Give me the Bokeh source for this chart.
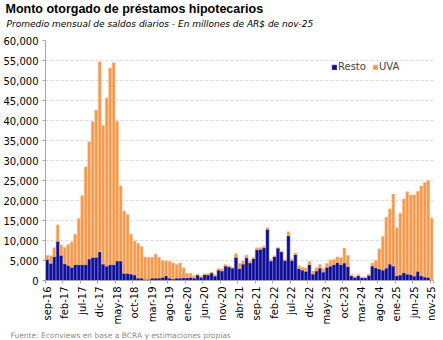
import math
from bokeh.plotting import figure
from bokeh.models import (Range1d, FixedTicker, NumeralTickFormatter, Title,
                          Legend, LegendItem, ColumnDataSource)
from bokeh.embed import file_html
from bokeh.resources import INLINE

# ---------------- data (millones de AR$ de nov-25) ----------------
month_abbr = ["ene", "feb", "mar", "abr", "may", "jun",
              "jul", "ago", "sep", "oct", "nov", "dic"]
months = []
y, m = 2016, 8
while (y, m) <= (2025, 10):
    months.append(f"{month_abbr[m]}-{str(y)[2:]}")
    m += 1
    if m == 12:
        m, y = 0, y + 1

resto = [5300, 4300, 6000, 9800, 6300, 4200, 3800, 3300, 4000, 4000,
         4000, 4000, 5400, 5800, 5800, 7200, 4100, 3600, 4000, 4000,
         4900, 4900, 1800, 1800, 1600, 1400, 600, 600, 300, 300,
         600, 600, 600, 800, 1200, 600, 400, 600, 600, 700,
         700, 800, 600, 1400, 800, 1500, 1400, 1900, 1100, 2600,
         2400, 3600, 3400, 3100, 5800, 3000, 4100, 5700, 4400, 5500,
         7700, 7800, 8200, 12800, 4900, 6000, 8100, 7200, 5000, 11200,
         5000, 6500, 3000, 2600, 2300, 4000, 1600, 2400, 3100, 2100,
         3300, 3600, 4000, 4500, 4000, 4400, 3500, 1200, 800, 1200,
         700, 700, 1300, 3600, 3200, 2900, 2600, 3100, 4100, 3600,
         1200, 1400, 2000, 1600, 1500, 1100, 2300, 1200, 900, 800,
         200]

uva = [1000, 1900, 2200, 4100, 2600, 4100, 5200, 6300, 7600, 11500,
       17200, 24400, 29300, 33900, 36800, 47500, 34700, 42000, 49100, 50500,
       34900, 18800, 15600, 14700, 10000, 8500, 8700, 7900, 5600, 5500,
       5200, 6000, 5200, 4200, 3700, 4200, 4000, 3400, 3800, 2500,
       1100, 1000, 600, 100, 300, 200, 300, 200, 400, 400,
       500, 400, 300, 100, 900, 1300, 800, 700, 500, 300,
       500, 400, 400, 400, 400, 200, 100, 200, 300, 1000,
       400, 400, 700, 700, 900, 800, 800, 800, 900, 900,
       1000, 1500, 1300, 1400, 1700, 3700, 2800, 300, 200, 300,
       100, 100, 300, 800, 1800, 5000, 8400, 12700, 13800, 18000,
       12000, 15400, 18400, 20600, 19900, 20300, 20000, 22400, 23600, 24200,
       15400]

tick_labels = ["sep-16", "feb-17", "jul-17", "dic-17", "may-18", "oct-18",
               "mar-19", "ago-19", "ene-20", "jun-20", "nov-20", "abr-21",
               "sep-21", "feb-22", "jul-22", "dic-22", "may-23", "oct-23",
               "mar-24", "ago-24", "ene-25", "jun-25", "nov-25"]

y_ticks = list(range(0, 60001, 5000))

title_text = "Monto otorgado de préstamos hipotecarios"
subtitle_text = "Promedio mensual de saldos diarios - En millones de AR$ de nov-25"
source_text = "Fuente: Econviews en base a BCRA y estimaciones propias"

# ---------------- figure ----------------
FONT = "DejaVu Sans"
n = len(resto)
idx = list(range(n))
src = ColumnDataSource(dict(x=idx, resto=resto, uva=uva,
                            total=[a + b for a, b in zip(resto, uva)],
                            month=months))

p = figure(width=443, height=340, output_backend="svg", toolbar_location=None,
           x_range=Range1d(-0.5, n - 0.5), y_range=Range1d(0, 60000),
           min_border_left=43, min_border_right=10,
           min_border_top=40, min_border_bottom=57)
p.outline_line_color = None
p.background_fill_color = "white"
p.border_fill_color = "white"

# main title (outermost)
p.title.text = title_text
p.title.align = "left"
p.title.offset = -40
p.title.standoff = -15.5
p.title.text_font = "Liberation Sans"
p.title.text_font_size = "12.5px"
p.title.text_font_style = "bold"
p.title.text_color = "#000000"

# subtitle (closest to the frame)
p.add_layout(Title(text=subtitle_text, align="left", offset=-39, standoff=20.3,
                   vertical_align="top",
                   text_font=FONT, text_font_size="9px",
                   text_font_style="italic", text_color="#000000"), "above")

r_resto = p.vbar(x="x", top="resto", bottom=0, width=0.82, source=src,
                 fill_color="#0C0C96", line_color="#3C3CB0", line_width=0.6)
r_uva = p.vbar(x="x", top="total", bottom="resto", width=0.82, source=src,
               fill_color="#F79646", line_color="#FBC193", line_width=0.6)

# grid
p.xgrid.visible = False
p.ygrid.grid_line_color = "#D9D9D9"
p.ygrid.grid_line_dash = "3 2"
p.ygrid.grid_line_width = 1

# y axis
ya = p.yaxis[0]
ya.ticker = FixedTicker(ticks=y_ticks)
ya.formatter = NumeralTickFormatter(format="0,0")
ya.axis_line_color = "#A6A6A6"
ya.major_tick_line_color = "#A6A6A6"
ya.major_tick_out = 3
ya.major_tick_in = 0
ya.minor_tick_line_color = None
ya.major_label_standoff = 4
ya.major_label_text_font = FONT
ya.major_label_text_font_size = "10px"
ya.major_label_text_color = "#000000"

# x axis
label_pos = list(range(0, n, 5))
xa = p.xaxis[0]
xa.ticker = FixedTicker(ticks=label_pos,
                        minor_ticks=[v - 0.5 for v in label_pos] + [n - 0.5])
xa.major_label_overrides = {pos: lab for pos, lab in zip(label_pos, tick_labels)}
xa.major_label_orientation = math.pi / 2
xa.axis_line_color = "#A6A6A6"
xa.major_tick_out = 0
xa.major_tick_in = 0
xa.major_tick_line_color = None
xa.minor_tick_line_color = "#A6A6A6"
xa.minor_tick_out = 3
xa.minor_tick_in = 0
xa.major_label_standoff = 3
xa.major_label_text_font = FONT
xa.major_label_text_font_size = "10px"
xa.major_label_text_color = "#000000"

# footer
p.add_layout(Title(text=source_text, align="left", offset=-35, standoff=2,
                   text_font=FONT, text_font_size="7.5px",
                   text_font_style="normal", text_color="#8C8C8C"), "below")

# legend
legend = Legend(items=[LegendItem(label="Resto", renderers=[r_resto]),
                       LegendItem(label="UVA", renderers=[r_uva])],
                orientation="horizontal", location=(286, 208),
                glyph_width=6, glyph_height=6, label_height=10,
                label_text_font=FONT, label_text_font_size="10px",
                label_standoff=1, spacing=6, padding=0, margin=0,
                border_line_color=None, background_fill_alpha=0)
p.add_layout(legend)

open("out.html", "w").write(file_html(p, INLINE))
